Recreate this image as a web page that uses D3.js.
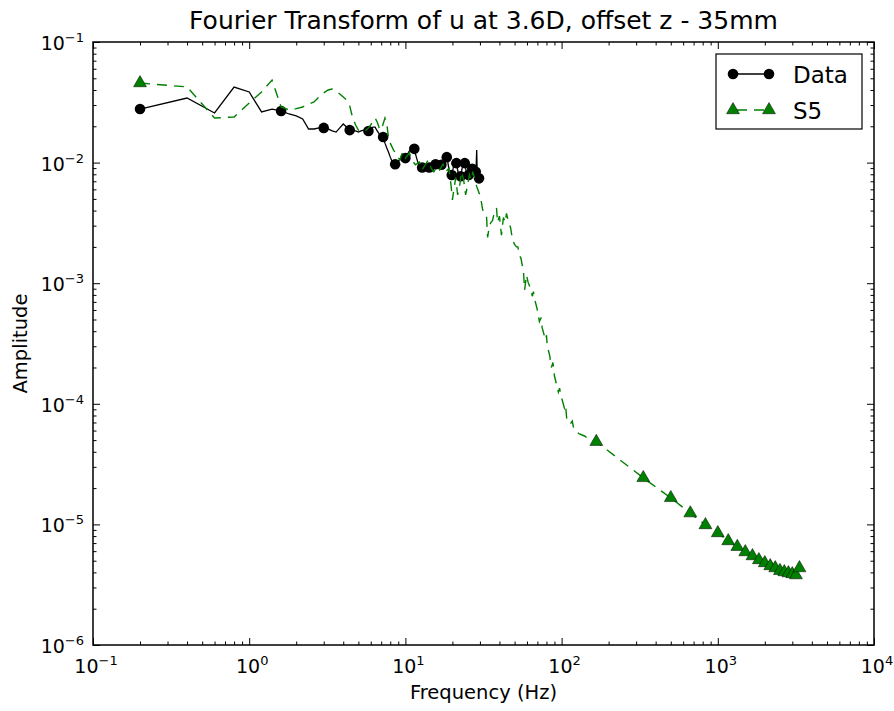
<!DOCTYPE html>
<html>
<head>
<meta charset="utf-8">
<script src="https://cdn.jsdelivr.net/npm/d3@7"></script>
<style>
  body { margin: 0; background: #fff; }
  svg { display: block; font-family: "DejaVu Sans", sans-serif; }
</style>
</head>
<body>
<div id="chart"></div>
<script>
// measured data: amplitude every 0.2 Hz, from 0.2 Hz up
const dataFreqStep = 0.2;
const dataAmp = [
  0.0278, 0.0343, 0.0258, 0.0423, 0.0385, 0.0263, 0.0278, 0.0268, 0.0253, 0.0244,
  0.0230, 0.0190, 0.0190, 0.0194, 0.0194, 0.0190, 0.0183, 0.0179, 0.0194, 0.0209,
  0.0197, 0.0186, 0.0183, 0.0183, 0.0179, 0.0183, 0.0186, 0.0186, 0.0183, 0.0190,
  0.0197, 0.0197, 0.0183, 0.0172, 0.0166, 0.0163, 0.0145, 0.0132, 0.0122, 0.0111,
  0.0103, 0.0097, 0.0097, 0.0101, 0.0103, 0.0105, 0.0107, 0.0107, 0.0109, 0.0109,
  0.0116, 0.0120, 0.0125, 0.0127, 0.0130, 0.0132, 0.0130, 0.0118, 0.0109, 0.0101,
  0.0096, 0.0093, 0.0091, 0.0091, 0.0096, 0.0097, 0.0093, 0.0089, 0.0089, 0.0091,
  0.0091, 0.0096, 0.0097, 0.0099, 0.0096, 0.0093, 0.0096, 0.0097, 0.0099, 0.0097,
  0.0093, 0.0091, 0.0093, 0.0096, 0.0096, 0.0099, 0.0103, 0.0107, 0.0109, 0.0111,
  0.0111, 0.0111, 0.0105, 0.0096, 0.0087, 0.0082, 0.0079, 0.0079, 0.0079, 0.0084,
  0.0089, 0.0096, 0.0099, 0.0101, 0.0101, 0.0099, 0.0093, 0.0087, 0.0082, 0.0079,
  0.0077, 0.0077, 0.0077, 0.0082, 0.0088, 0.0093, 0.0097, 0.0099, 0.0099, 0.0099,
  0.0093, 0.0087, 0.0082, 0.0079, 0.0077, 0.0079, 0.0079, 0.0084, 0.0088, 0.0091,
  0.0093, 0.0091, 0.0089, 0.0089, 0.0087, 0.0084, 0.0080, 0.0082, 0.0085, 0.0084,
  0.0084, 0.0096, 0.0127, 0.0087, 0.0077, 0.0074, 0.0073, 0.0074, 0.0072
];
const dataMarkEvery = 7;

// S5 simulation
const s5Freq = [
  0.2, 0.4, 0.6, 0.8, 1.0, 1.2, 1.4, 1.6, 1.8, 2.0,
  2.2, 2.4, 2.6, 2.8, 3.0, 3.2, 3.4, 3.6, 3.8, 4.0,
  4.2, 4.4, 4.6, 4.8, 5.0, 5.2, 5.4, 5.6, 5.8, 6.0,
  6.2, 6.4, 6.6, 6.8, 7.0, 7.2, 7.4, 7.6, 7.8, 8.0,
  8.4, 8.8, 9.2, 9.6, 10.0, 10.6, 11.0, 11.6, 12.3, 12.8,
  13.4, 14.0, 14.6, 15.2, 16.0, 16.6, 17.4, 18.2, 19.0, 19.6,
  20.0, 20.4, 21.0, 21.6, 22.2, 22.8, 23.6, 24.3, 25.0, 25.7,
  26.4, 27.0, 27.7, 28.4, 29.2, 29.8, 30.5, 31.2, 32.0, 33.1,
  33.6, 34.5, 35.3, 36.1, 37.0, 38.3, 38.9, 40.0, 41.2, 42.4,
  43.5, 44.4, 45.0, 46.0, 47.1, 48.5, 50.0, 51.4, 52.5, 53.7,
  55.0, 57.0, 58.0, 59.6, 61.0, 63.1, 65.0, 66.0, 67.9, 70.0,
  72.1, 74.0, 75.0, 78.8, 80.0, 81.0, 84.0, 86.0, 88.0, 90.0,
  95.4, 97.0, 100, 104.2, 106, 108, 113.8, 117, 120, 129.9,
  140, 150,
  166.8, 333.4, 500.0, 666.6, 833.2, 999.8, 1166.4, 1333.0, 1499.6, 1666.2,
  1832.8, 1999.4, 2166.0, 2332.6, 2499.2, 2665.8, 2832.4, 2999.0, 3165.6, 3332.2
];
const s5Amp = [
  0.0457, 0.0424, 0.0234, 0.0239, 0.0312, 0.0385, 0.0484, 0.0289, 0.0273, 0.0280,
  0.0289, 0.0306, 0.0318, 0.0350, 0.0378, 0.0400, 0.0408, 0.0392, 0.0371, 0.0350,
  0.0331, 0.0295, 0.0234, 0.0205, 0.0186, 0.0179, 0.0183, 0.0186, 0.0194, 0.0205,
  0.0221, 0.0234, 0.0217, 0.0194, 0.0186, 0.0209, 0.0234, 0.0209, 0.0160, 0.0145,
  0.0127, 0.0116, 0.0105, 0.0122, 0.0109, 0.0120, 0.0105, 0.0096, 0.0101, 0.0087,
  0.0096, 0.0105, 0.0090, 0.0084, 0.0094, 0.0087, 0.0097, 0.0084, 0.0090, 0.0065,
  0.0049, 0.0059, 0.0075, 0.0054, 0.0062, 0.0084, 0.0072, 0.0054, 0.0065, 0.0079,
  0.0072, 0.0084, 0.0075, 0.0065, 0.0059, 0.0055, 0.0049, 0.0041, 0.0037, 0.0035,
  0.0024, 0.0030, 0.0032, 0.0033, 0.0038, 0.0042, 0.0032, 0.0036, 0.0025, 0.0035,
  0.0032, 0.0038, 0.0035, 0.0032, 0.0029, 0.0023, 0.0021, 0.0020, 0.0020, 0.0017,
  0.0016, 0.00124, 0.00088, 0.00117, 0.00102, 0.00091, 0.00078, 0.00085, 0.00070, 0.00060,
  0.00048, 0.00052, 0.00043, 0.00034, 0.00037, 0.00030, 0.00025, 0.00020, 0.00022, 0.00017,
  0.000125, 0.000135, 0.000112, 0.0000923, 0.000098, 0.0000734, 0.0000681, 0.000072, 0.0000607, 0.0000562,
  0.0000541, 0.0000511,
  4.85e-5, 2.43e-5, 1.66e-5, 1.24e-5, 9.89e-6, 8.49e-6, 7.28e-6, 6.53e-6, 5.90e-6, 5.47e-6,
  5.07e-6, 4.79e-6, 4.52e-6, 4.35e-6, 4.13e-6, 4.03e-6, 3.95e-6, 3.88e-6, 3.80e-6, 4.35e-6
];
const s5MarkFreq = [0.2, 166.8, 333.4, 500.0, 666.6, 833.2, 999.8, 1166.4, 1333.0, 1499.6,
  1666.2, 1832.8, 1999.4, 2166.0, 2332.6, 2499.2, 2665.8, 2832.4, 2999.0, 3165.6, 3332.2];

const xDomain = [0.1, 10000];
const yDomain = [1e-6, 0.1];
const xExps = [-1, 0, 1, 2, 3, 4];
const yExps = [-6, -5, -4, -3, -2, -1];

const title = "Fourier Transform of u at 3.6D, offset z - 35mm";
const xLabel = "Frequency (Hz)";
const yLabel = "Amplitude";
const seriesNames = ["Data", "S5"];

const width = 894, height = 711;
const margin = { top: 42, right: 20, bottom: 66, left: 93 };
const green = "#008000";

const svg = d3.select("#chart").append("svg")
  .attr("width", width)
  .attr("height", height);

const plotW = width - margin.left - margin.right;
const plotH = height - margin.top - margin.bottom;

const x = d3.scaleLog().domain(xDomain).range([margin.left, margin.left + plotW]);
const y = d3.scaleLog().domain(yDomain).range([margin.top + plotH, margin.top]);

const minorTicks = (lo, hi) => {
  const out = [];
  for (let e = lo; e < hi; e++) {
    for (let m = 2; m <= 9; m++) out.push(m * Math.pow(10, e));
  }
  return out;
};
const xMajor = xExps.map(e => Math.pow(10, e));
const yMajor = yExps.map(e => Math.pow(10, e));
const xMinor = minorTicks(-1, 4);
const yMinor = minorTicks(-6, -1);

svg.append("defs").append("clipPath").attr("id", "clip")
  .append("rect")
  .attr("x", margin.left).attr("y", margin.top)
  .attr("width", plotW).attr("height", plotH);

const plot = svg.append("g").attr("clip-path", "url(#clip)");

// Data series
const dataPts = dataAmp.map((a, i) => ({ f: +(dataFreqStep * (i + 1)).toFixed(1), a: a }));

plot.append("path")
  .datum(dataPts)
  .attr("fill", "none")
  .attr("stroke", "#000")
  .attr("stroke-width", 1.3)
  .attr("d", d3.line().x(d => x(d.f)).y(d => y(d.a)));

plot.append("g").selectAll("circle")
  .data(dataPts.filter((d, i) => i % dataMarkEvery === 0))
  .join("circle")
  .attr("cx", d => x(d.f))
  .attr("cy", d => y(d.a))
  .attr("r", 5.3)
  .attr("fill", "#000");

// S5 series
const s5Pts = s5Freq.map((f, i) => ({ f: f, a: s5Amp[i] }));

plot.append("path")
  .datum(s5Pts)
  .attr("fill", "none")
  .attr("stroke", green)
  .attr("stroke-width", 1.4)
  .attr("stroke-dasharray", "10,7")
  .attr("d", d3.line().x(d => x(d.f)).y(d => y(d.a)));

const tri = d3.symbol().type(d3.symbolTriangle).size(72);

plot.append("g").selectAll("path")
  .data(s5Pts.filter(d => s5MarkFreq.includes(d.f)))
  .join("path")
  .attr("transform", d => `translate(${x(d.f)},${y(d.a)})`)
  .attr("d", tri)
  .attr("fill", green)
  .attr("stroke", "#000")
  .attr("stroke-width", 0.5);

// axes, classic inward ticks on all four sides
const addTicks = (axisFn, scale, major, minor, tx, ty) => {
  svg.append("g").attr("transform", `translate(${tx},${ty})`)
    .call(axisFn(scale).tickValues(minor).tickSize(-3.5).tickFormat(""))
    .call(g => g.select(".domain").remove());
  svg.append("g").attr("transform", `translate(${tx},${ty})`)
    .call(axisFn(scale).tickValues(major).tickSize(-7).tickFormat(""))
    .call(g => g.select(".domain").remove());
};
addTicks(d3.axisBottom, x, xMajor, xMinor, 0, margin.top + plotH);
addTicks(d3.axisTop, x, xMajor, xMinor, 0, margin.top);
addTicks(d3.axisLeft, y, yMajor, yMinor, margin.left, 0);
addTicks(d3.axisRight, y, yMajor, yMinor, margin.left + plotW, 0);

svg.selectAll(".tick line").attr("stroke", "#000").attr("stroke-width", 1);

svg.append("rect")
  .attr("x", margin.left).attr("y", margin.top)
  .attr("width", plotW).attr("height", plotH)
  .attr("fill", "none")
  .attr("stroke", "#000")
  .attr("stroke-width", 1.5);

// tick labels with superscript exponents
const powLabel = (sel, e) => {
  sel.append("tspan").text("10");
  sel.append("tspan")
    .attr("dy", -8)
    .attr("font-size", 13)
    .text(e < 0 ? "\u2212" + (-e) : String(e));
};

svg.append("g").selectAll("text")
  .data(xExps)
  .join("text")
  .attr("x", d => x(Math.pow(10, d)) + 3)
  .attr("y", margin.top + plotH + 28)
  .attr("text-anchor", "middle")
  .attr("font-size", 19)
  .attr("fill", "#000")
  .each(function (d) { powLabel(d3.select(this), d); });

svg.append("g").selectAll("text")
  .data(yExps)
  .join("text")
  .attr("x", margin.left - 9)
  .attr("y", d => y(Math.pow(10, d)) + 8)
  .attr("text-anchor", "end")
  .attr("font-size", 19)
  .attr("fill", "#000")
  .each(function (d) { powLabel(d3.select(this), d); });

// titles
svg.append("text")
  .attr("x", margin.left + plotW / 2)
  .attr("y", 29)
  .attr("text-anchor", "middle")
  .attr("font-size", 25)
  .text(title);

svg.append("text")
  .attr("x", margin.left + plotW / 2)
  .attr("y", 699)
  .attr("text-anchor", "middle")
  .attr("font-size", 19.5)
  .text(xLabel);

svg.append("text")
  .attr("transform", `translate(27,${margin.top + plotH / 2}) rotate(-90)`)
  .attr("text-anchor", "middle")
  .attr("font-size", 19.5)
  .text(yLabel);

// legend
const legend = svg.append("g").attr("transform", "translate(716,54)");
legend.append("rect")
  .attr("width", 146).attr("height", 75)
  .attr("fill", "#fff")
  .attr("stroke", "#000")
  .attr("stroke-width", 1.2);

const legRows = legend.selectAll("g.row")
  .data(seriesNames)
  .join("g")
  .attr("class", "row")
  .attr("transform", (d, i) => `translate(0,${20 + i * 36})`);

legRows.append("line")
  .attr("x1", 17).attr("x2", 53)
  .attr("stroke", (d, i) => i === 0 ? "#000" : green)
  .attr("stroke-width", 1.4)
  .attr("stroke-dasharray", (d, i) => i === 0 ? null : "10,7")
  .attr("stroke-dashoffset", (d, i) => i === 0 ? null : -4);

legRows.each(function (d, i) {
  const g = d3.select(this);
  [17, 53].forEach(px => {
    if (i === 0) {
      g.append("circle").attr("cx", px).attr("r", 5.3).attr("fill", "#000");
    } else {
      g.append("path").attr("transform", `translate(${px},0)`).attr("d", tri)
        .attr("fill", green).attr("stroke", "#000").attr("stroke-width", 0.5);
    }
  });
});

legRows.append("text")
  .attr("x", 77)
  .attr("y", 9)
  .attr("font-size", 23)
  .text(d => d);
</script>
</body>
</html>
